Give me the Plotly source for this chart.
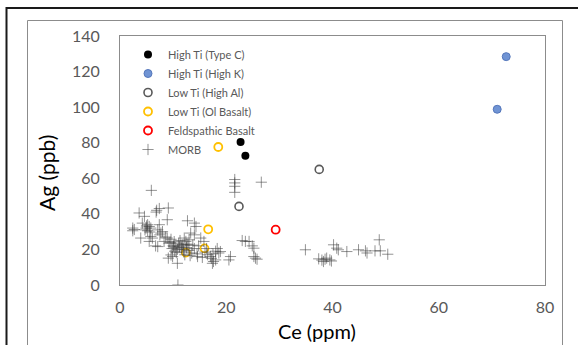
import plotly.graph_objects as go

# ---------------- data ----------------
typec_ce = [22.7, 23.6]
typec_ag = [80.4, 72.7]

highk_ce = [72.7, 71.0]
highk_ag = [128.4, 98.8]

highal_ce = [37.5, 22.4]
highal_ag = [65.0, 44.2]

olb_ce = [18.5, 16.6, 15.9, 12.4]
olb_ag = [77.6, 31.3, 20.6, 18.2]

feld_ce = [29.3]
feld_ag = [31.1]

morb_ce = [5.9, 21.6, 21.6, 21.6, 21.6, 26.6,
           6.9, 6.8, 9.1, 7.4, 3.6, 4.6, 8.9,
           2.4, 2.4, 2.7, 4.2,
           5.2, 5.5, 4.9, 5.8, 5.2, 5.6, 5.0, 4.7,
           3.9, 5.8, 6.1, 7.4, 7.1, 7.7, 7.5, 8.0,
           5.5, 7.1, 8.3, 8.9, 9.2, 6.7, 9.6, 10.2,
           10.0, 10.5, 11.0, 10.8, 11.3, 11.5, 9.8, 10.3,
           9.6, 9.1, 9.9, 10.8, 10.9,
           12.7, 14.0, 14.3, 13.3, 14.0, 12.1, 12.4, 11.8, 13.0,
           15.2, 15.8, 12.5, 13.0, 13.5, 14.0, 14.5, 13.2, 12.2, 12.8, 14.8,
           16.0, 16.5, 17.0, 17.5, 18.0, 18.3, 18.6, 17.2, 17.4, 17.6, 18.0, 16.3, 15.5, 14.6,
           18.9, 20.5, 20.8,
           23.0, 23.6, 24.3, 24.9, 25.2, 25.2, 25.5, 25.8,
           34.9, 37.4, 38.0, 38.3, 38.9, 39.5, 39.8, 38.6,
           40.2, 40.8, 41.1, 42.7, 44.9, 46.2, 46.5, 48.0, 49.0, 48.8, 50.4,
           11.2, 11.9, 12.6, 10.6, 11.6, 13.7, 12.0, 10.1, 9.4, 8.6]
morb_ag = [53.2, 59.3, 57.4, 55.5, 52.1, 57.8,
           42.0, 41.0, 43.3, 43.0, 40.5, 38.6, 36.7,
           32.0, 30.5, 31.2, 34.8,
           33.9, 32.9, 32.0, 32.0, 30.5, 29.8, 33.2, 31.0,
           26.4, 27.3, 26.4, 33.9, 31.0, 29.2, 28.2, 30.0,
           24.5, 21.6, 24.5, 26.4, 23.5, 22.0, 25.7, 24.4,
           22.0, 21.0, 23.5, 20.0, 25.0, 22.5, 20.5, 19.0,
           16.9, 15.1, 16.0, 12.2, 0.0,
           36.1, 34.8, 32.9, 29.2, 28.2, 26.4, 24.5, 22.6, 25.4,
           26.4, 24.5, 21.0, 19.5, 18.0, 20.5, 17.5, 16.5, 17.0, 22.5, 22.0,
           18.5, 17.0, 16.0, 17.5, 19.0, 20.5, 18.0, 15.0, 12.2, 13.2, 14.1, 20.5, 15.5, 16.0,
           18.8, 14.1, 16.0,
           25.0, 24.5, 24.5, 22.0, 20.7, 16.0, 15.1, 14.5,
           19.8, 14.7, 14.0, 13.2, 15.1, 14.1, 13.5, 14.5,
           22.6, 20.7, 19.8, 18.8, 19.8, 19.2, 18.0, 19.2, 19.2, 25.4, 17.3,
           21.5, 19.8, 23.0, 18.2, 20.8, 22.4, 18.6, 21.8, 23.8, 27.0]

x_ticks = [0, 20, 40, 60, 80]
y_ticks = [0, 20, 40, 60, 80, 100, 120, 140]

# ---------------- layout geometry (pixels) ----------------
W, H = 578, 345
L, R, T, B = 120, 545, 36, 285


def px(x):
    return (x - L) / (R - L)


def py(y):
    return (B - y) / (B - T)


FONT = "Lato, Carlito, Calibri, sans-serif"
TICK_COLOR = "#595959"

fig = go.Figure()

fig.add_trace(go.Scatter(
    x=typec_ce, y=typec_ag, mode="markers", name="High Ti (Type C)",
    marker=dict(symbol="circle", size=8, color="black", line=dict(width=0))))
fig.add_trace(go.Scatter(
    x=highk_ce, y=highk_ag, mode="markers", name="High Ti (High K)",
    marker=dict(symbol="circle", size=8, color="#7094d4",
                line=dict(width=1, color="#5577bb"))))
fig.add_trace(go.Scatter(
    x=highal_ce, y=highal_ag, mode="markers", name="Low Ti (High Al)",
    marker=dict(symbol="circle-open", size=8, color="#595959",
                line=dict(width=1.6))))
fig.add_trace(go.Scatter(
    x=olb_ce, y=olb_ag, mode="markers", name="Low Ti (Ol Basalt)",
    marker=dict(symbol="circle-open", size=8, color="#FFC000",
                line=dict(width=1.8))))
fig.add_trace(go.Scatter(
    x=feld_ce, y=feld_ag, mode="markers", name="Feldspathic Basalt",
    marker=dict(symbol="circle-open", size=8, color="#FF0000",
                line=dict(width=1.8))))
fig.add_trace(go.Scatter(
    x=morb_ce, y=morb_ag, mode="markers", name="MORB",
    marker=dict(symbol="cross-thin-open", size=8,
                color="rgba(60,60,60,0.55)", line=dict(width=1))))

axis_common = dict(
    showgrid=False, zeroline=False, showline=True, mirror=True,
    linecolor="#8c8c8c", linewidth=1, ticks="",
    tickfont=dict(family=FONT, size=16, color=TICK_COLOR),
)

fig.update_xaxes(range=[0, 80], tickvals=x_ticks, ticklabelstandoff=8,
                 **axis_common)
fig.update_yaxes(range=[0, 140], tickvals=y_ticks, ticklabelstandoff=16,
                 **axis_common)

shapes = [
    # outer black frame (top and left edges visible)
    dict(type="rect", xref="paper", yref="paper",
         x0=px(6.5), x1=px(640), y0=py(8), y1=py(420),
         line=dict(color="#1a1a1a", width=2), layer="below"),
    # grey chart-area frame
    dict(type="rect", xref="paper", yref="paper",
         x0=px(27.5), x1=px(562.5), y0=py(20.5), y1=py(420),
         line=dict(color="#8c8c8c", width=1), layer="below"),
]

annotations = [
    dict(text="Ce (ppm)", xref="paper", yref="paper", x=px(317), y=py(331),
         xanchor="center", yanchor="middle", showarrow=False,
         font=dict(family=FONT, size=20, color="black")),
    dict(text="Ag (ppb)", xref="paper", yref="paper", x=px(46), y=py(173),
         xanchor="center", yanchor="middle", showarrow=False, textangle=-90,
         font=dict(family=FONT, size=21, color="black")),
]

fig.update_layout(
    width=W, height=H,
    margin=dict(l=L, r=W - R, t=T, b=H - B, pad=0),
    paper_bgcolor="white", plot_bgcolor="white",
    showlegend=True,
    legend=dict(x=px(128), y=py(40), xanchor="left", yanchor="top",
                bgcolor="rgba(0,0,0,0)", borderwidth=0,
                font=dict(family=FONT, size=11, color=TICK_COLOR),
                itemwidth=30, tracegroupgap=0),
    shapes=shapes, annotations=annotations,
)

fig.write_html(
    "out.html",
    config={"displayModeBar": False},
    post_script="document.body.style.margin='0';document.body.style.overflow='hidden';",
)
